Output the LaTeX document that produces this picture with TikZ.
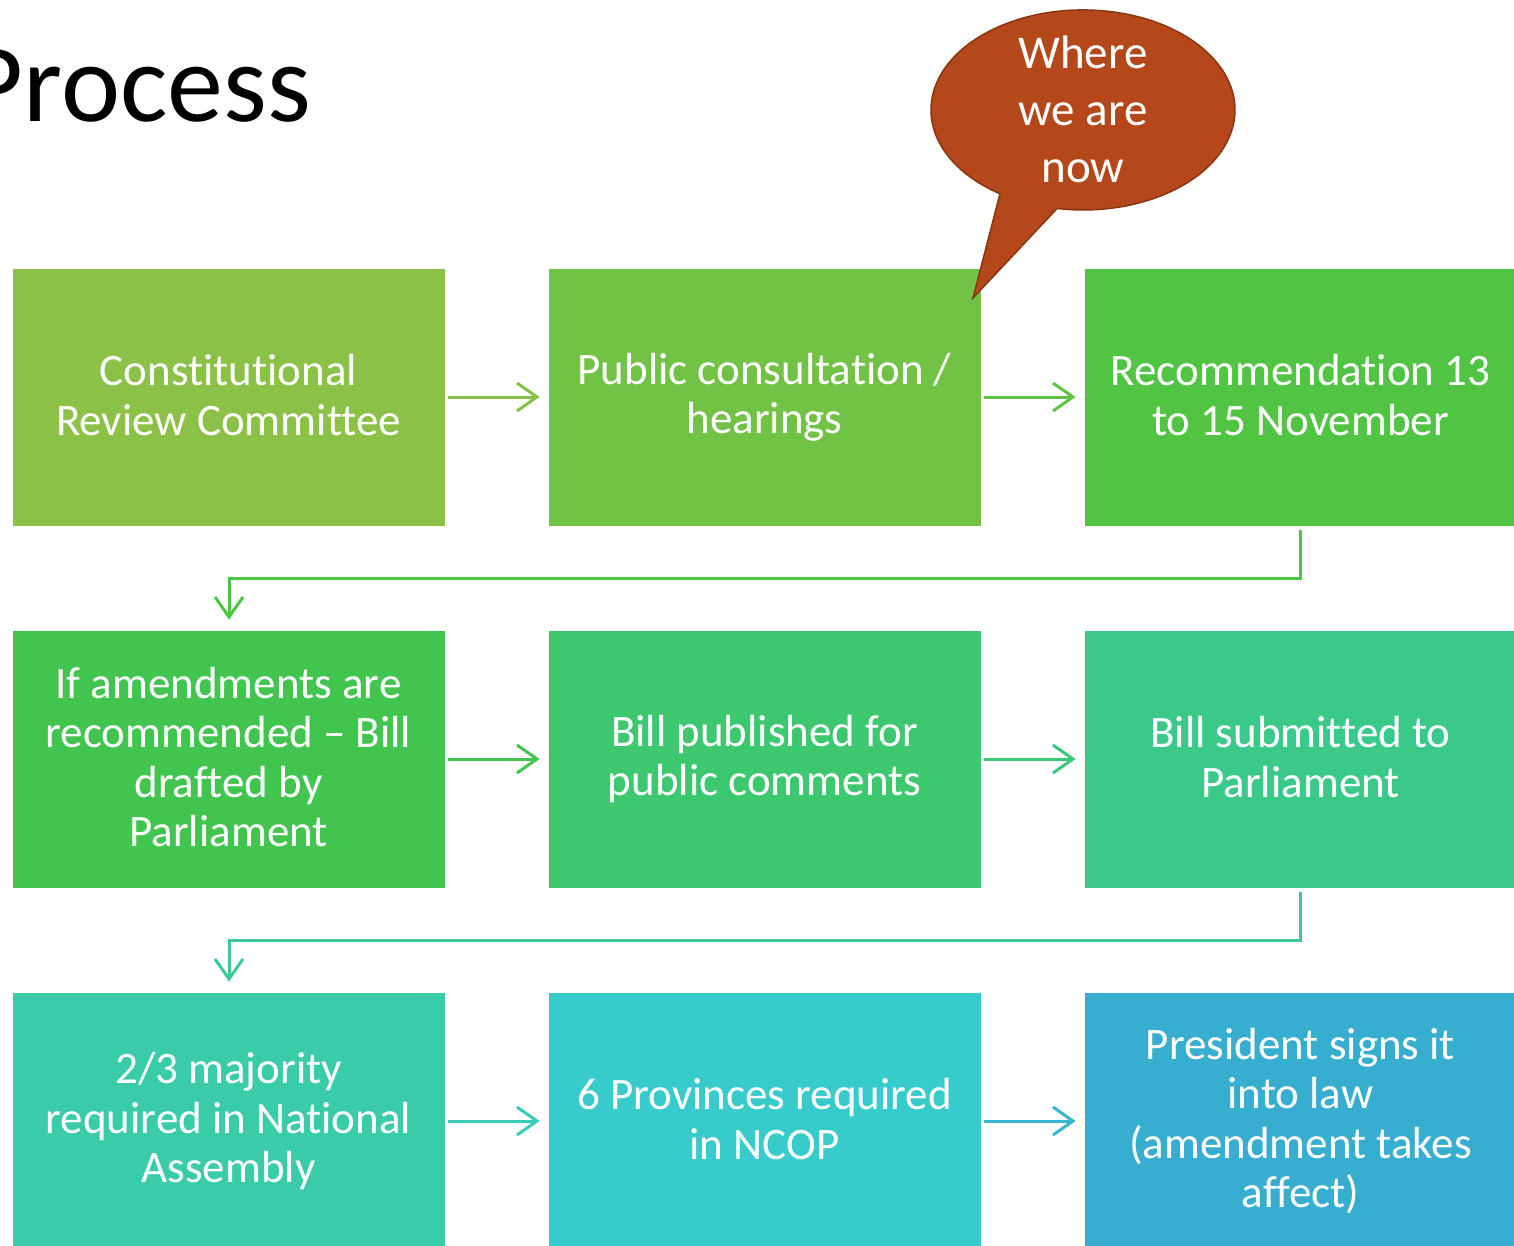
\documentclass[tikz,border=0pt]{standalone}
\usepackage{fontspec}
\setmainfont[Ligatures=NoCommon]{Carlito}
\usetikzlibrary{arrows.meta}
\definecolor{cA}{HTML}{8BC147}
\definecolor{cB}{HTML}{72C245}
\definecolor{cC}{HTML}{51C443}
\definecolor{cD}{HTML}{42C54E}
\definecolor{cE}{HTML}{3DC870}
\definecolor{cF}{HTML}{3BC98A}
\definecolor{cG}{HTML}{3ACCA8}
\definecolor{cH}{HTML}{37CBCB}
\definecolor{cI}{HTML}{37ADCF}
\definecolor{calloutfill}{HTML}{B5481A}
\definecolor{calloutline}{HTML}{8A3512}
\tikzset{
  stepbox/.style={fill=#1, draw=white, line width=0.8pt, minimum width=433pt, minimum height=258pt,
    inner sep=0pt, text=white, align=center, font=\fontsize{45}{49.5}\selectfont,
    execute at begin node=\rule{0pt}{44pt}, execute at end node=\rule[-4pt]{0pt}{4pt}},
  flow/.style={draw=#1, line width=3pt, -{Straight Barb[length=20pt,width=28pt,line width=3pt]}},
}
\begin{document}
\begin{tikzpicture}[x=1pt,y=-1pt]
\useasboundingbox (0,0) rectangle (1514,1246);
\node[anchor=base east, inner sep=0pt, font=\fontsize{112}{130}\selectfont] (title) at (311,122) {Process};

\node[stepbox=cA] (b1) at (228.5,397) {Constitutional\\Review Committee};
\node[stepbox=cB] (b2) at (764.5,397) {Public consultation /\\hearings};
\node[stepbox=cC] (b3) at (1300.5,397) {Recommendation 13\\to 15 November};
\node[stepbox=cD] (b4) at (228.5,759) {If amendments are\\recommended -- Bill\\drafted by\\Parliament};
\node[stepbox=cE] (b5) at (764.5,759) {Bill published for\\public comments};
\node[stepbox=cF] (b6) at (1300.5,759) {Bill submitted to\\Parliament};
\node[stepbox=cG] (b7) at (228.5,1121) {2/3 majority\\required in National\\Assembly};
\node[stepbox=cH] (b8) at (764.5,1121) {6 Provinces required\\in NCOP};
\node[stepbox=cI] (b9) at (1300.5,1121) {President signs it\\into law\\(amendment takes\\affect)};

\draw[flow=cA!60!cB] ([xshift=3pt]b1.east) -- ([xshift=-8pt]b2.west);
\draw[flow=cB!40!cC] ([xshift=3pt]b2.east) -- ([xshift=-8pt]b3.west);
\draw[flow=cD] ([xshift=3pt]b4.east) -- ([xshift=-8pt]b5.west);
\draw[flow=cE!60!cF] ([xshift=3pt]b5.east) -- ([xshift=-8pt]b6.west);
\draw[flow=cG!50!cH] ([xshift=3pt]b7.east) -- ([xshift=-8pt]b8.west);
\draw[flow=cH!30!cI] ([xshift=3pt]b8.east) -- ([xshift=-8pt]b9.west);

\coordinate (k1) at (1300,578);
\coordinate (k2) at (229,578);
\draw[flow=cC!70!cD] ([yshift=-4pt]b3.south -| k1) -- (k1) -- (k2) -- ([yshift=10pt]b4.north -| k2);
\coordinate (k3) at (1300,940);
\coordinate (k4) at (229,940);
\draw[flow=cF!70!cG] ([yshift=-4pt]b6.south -| k3) -- (k3) -- (k4) -- ([yshift=10pt]b7.north -| k4);

\filldraw[fill=calloutfill, draw=calloutline, line width=1.5pt]
  (1057.1,208.5) arc[start angle=99.8, end angle=-236.9, x radius=152, y radius=100]
  -- (973,298) -- cycle;
\node[text=white, align=center, font=\fontsize{47}{57}\selectfont, inner sep=0pt,
  execute at begin node=\strut, execute at end node=\strut] (callout) at (1083,118) {Where\\we are\\now};
\end{tikzpicture}
\end{document}
